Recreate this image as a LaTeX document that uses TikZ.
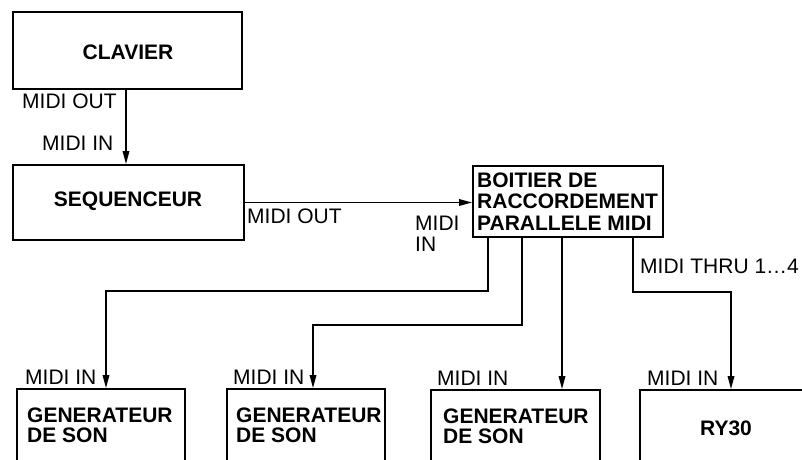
\documentclass[tikz,border=0pt]{standalone}
\usepackage{fontspec}
\setmainfont{Liberation Sans}
\usetikzlibrary{arrows.meta,calc}
\tikzset{
  box/.style={draw, line width=1.8pt, rectangle, inner sep=0pt},
  boxtext/.style={inner sep=0pt, font=\fontsize{21}{21.5}\selectfont\bfseries},
  lbl/.style={inner sep=0pt, anchor=base west, font=\fontsize{21}{26}\selectfont},
  arr/.style={line width=1.7pt, -{Triangle[length=13pt,width=6.5pt]}},
  wire/.style={line width=1.7pt}
}
\begin{document}
\begin{tikzpicture}[x=1pt,y=-1pt]
\clip (0,0) rectangle (802,459);
\fill[white] (0,0) rectangle (802,459);
% boxes
\node[box, minimum width=229pt, minimum height=77pt] (clavier) at (127.5,50.5) {};
\node[box, minimum width=231pt, minimum height=75pt] (seq) at (128.5,202.5) {};
\node[box, minimum width=190pt, minimum height=71pt] (boitier) at (568,201.5) {};
\node[box, minimum width=168pt, minimum height=76pt] (gen1) at (101,427) {};
\node[box, minimum width=158pt, minimum height=76pt] (gen2) at (306,427) {};
\node[box, minimum width=169pt, minimum height=76pt] (gen3) at (515.5,428) {};
\node[box, minimum width=172pt, minimum height=76pt] (ry) at (726,428) {};
% box texts
\node[boxtext] (tclav) at (128,52) {CLAVIER};
\node[boxtext] (tseq) at (128,201) {SEQUENCEUR};
\node[boxtext, anchor=base west] (tb1) at (477,187) {BOITIER DE};
\node[boxtext, anchor=base west] (tb2) at (477,208.5) {RACCORDEMENT};
\node[boxtext, anchor=base west] (tb3) at (477,230) {PARALLELE MIDI};
\node[boxtext, anchor=base west] (tg1a) at (27,422) {GENERATEUR};
\node[boxtext, anchor=base west] (tg1b) at (27,442) {DE SON};
\node[boxtext, anchor=base west] (tg2a) at (236,422) {GENERATEUR};
\node[boxtext, anchor=base west] (tg2b) at (236,442) {DE SON};
\node[boxtext, anchor=base west] (tg3a) at (443,423) {GENERATEUR};
\node[boxtext, anchor=base west] (tg3b) at (443,443) {DE SON};
\node[boxtext] (try) at (726,428) {RY30};
% labels
\node[lbl] (l1) at (22,108) {MIDI OUT};
\node[lbl] (l2) at (42,150) {MIDI IN};
\node[lbl] (l3) at (247,223) {MIDI OUT};
\node[lbl] (l4) at (415,230) {MIDI};
\node[lbl] (l5) at (415,251) {IN};
\node[lbl] (l6) at (640,273) {MIDI THRU 1\ldots4};
\node[lbl] (l7) at (25,384) {MIDI IN};
\node[lbl] (l8) at (233,384) {MIDI IN};
\node[lbl] (l9) at (437,385) {MIDI IN};
\node[lbl] (l10) at (647,385) {MIDI IN};
% x positions of wires
\coordinate (xa) at (126,0);
\coordinate (x1) at (488,0);
\coordinate (x2) at (522,0);
\coordinate (x3) at (562,0);
\coordinate (x4) at (633,0);
\coordinate (y1) at (0,291);
\coordinate (y2) at (0,325);
\coordinate (y4) at (0,292);
\coordinate (g1) at (106,0);
\coordinate (g2) at (313,0);
\coordinate (g4) at (731,0);
% connectors
\draw[arr] (clavier.south -| xa) -- (seq.north -| xa);
\draw[arr] (seq.east) -- (boitier.west |- seq.east);
\draw[arr] (boitier.south -| x1) -- (x1 |- y1) -- (g1 |- y1) -- (gen1.north -| g1);
\draw[arr] (boitier.south -| x2) -- (x2 |- y2) -- (g2 |- y2) -- (gen2.north -| g2);
\draw[arr] (boitier.south -| x3) -- (gen3.north -| x3);
\draw[arr] (boitier.south -| x4) -- (x4 |- y4) -- (g4 |- y4) -- (ry.north -| g4);
\end{tikzpicture}
\end{document}
